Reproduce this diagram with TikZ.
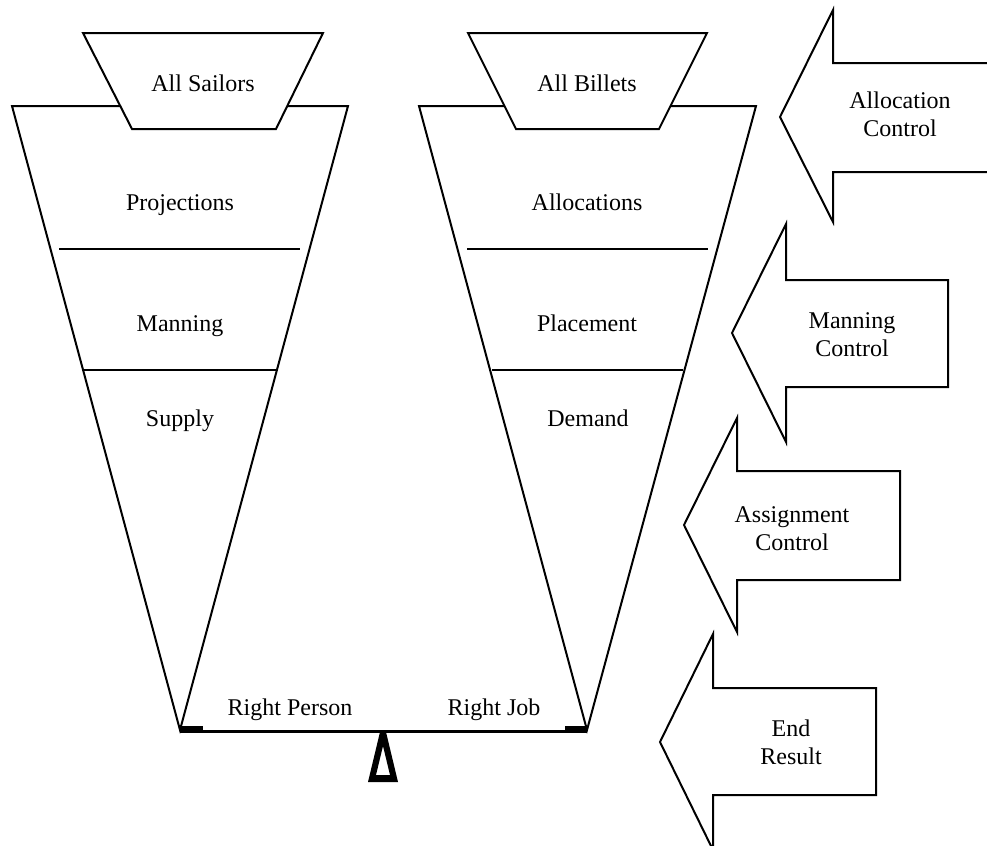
\documentclass[tikz,border=0pt]{standalone}
\usepackage{fontspec}
\setmainfont{Liberation Serif}
\begin{document}
\begin{tikzpicture}[x=0.5pt,y=-0.5pt, line join=miter,
  outl/.style={draw=black, line width=1pt, fill=white},
  sepline/.style={draw=black, line width=1pt},
  lbl/.style={font=\fontsize{12}{13.8}\selectfont, inner sep=0pt, anchor=base},
  lbltwo/.style={font=\fontsize{12}{13.8}\selectfont, inner sep=0pt, align=center, anchor=center},
  arrowshape/.style={draw=black, line width=1pt, fill=white}]
\useasboundingbox (0,0) rectangle (987,846);
% ---------- left funnel ----------
\coordinate (LTL) at (12,106);
\coordinate (LTR) at (348,106);
\coordinate (LB) at (180,730);
\draw[outl] (LTL) -- (LTR) -- (LB) -- cycle;
\draw[outl] (83,33) -- (323,33) -- (276,129) -- (132,129) -- cycle;
\draw[sepline] (59,249) -- (300,249);
\draw[sepline] (83,370) -- (276,370);
% ---------- right funnel ----------
\coordinate (RTL) at (419,106);
\coordinate (RTR) at (756,106);
\coordinate (RB) at (587,730);
\draw[outl] (RTL) -- (RTR) -- (RB) -- cycle;
\draw[outl] (468,33) -- (707,33) -- (659,129) -- (516,129) -- cycle;
\draw[sepline] (467,249) -- (708,249);
\draw[sepline] (492,370) -- (683,370);
% ---------- balance ----------
\draw[line width=1.5pt] (LB |- 0,731) -- (RB |- 0,731);
\fill (180,726) rectangle (203,733);
\fill (565,726) rectangle (587,733);
\fill[even odd rule] (380,732) -- (386,732) -- (398,782) -- (368,782) -- cycle
                     (383,746) -- (390,775) -- (376,775) -- cycle;
% ---------- arrows ----------
\draw[arrowshape] (990,63) -- (833,63) -- (833,10) -- (780,117) -- (833,222) -- (833,172) -- (990,172);
\draw[arrowshape] (948,280) -- (786,280) -- (786,224) -- (732,333) -- (786,442) -- (786,387) -- (948,387) -- cycle;
\draw[arrowshape] (900,471) -- (737,471) -- (737,418) -- (684,525) -- (737,632) -- (737,580) -- (900,580) -- cycle;
\draw[arrowshape] (876,688) -- (713,688) -- (713,634) -- (660,742) -- (713,850) -- (713,795) -- (876,795) -- cycle;
% ---------- labels ----------
\node[lbl] (sailors) at (203,91) {All Sailors};
\node[lbl] (billets) at (587,91) {All Billets};
\node[lbl] (proj) at (180,210) {Projections};
\node[lbl] (mann) at (180,331) {Manning};
\node[lbl] (supp) at (180,426) {Supply};
\node[lbl] (alloc) at (587,210) {Allocations};
\node[lbl] (place) at (587,331) {Placement};
\node[lbl] (dem) at (588,426) {Demand};
\node[lbl] (rperson) at (290,715) {Right Person};
\node[lbl] (rjob) at (494,715) {Right Job};
\node[lbltwo] (ac) at (900,114) {Allocation\\Control};
\node[lbltwo] (mc) at (852,334.5) {Manning\\Control};
\node[lbltwo] (asc) at (792,528.5) {Assignment\\Control};
\node[lbltwo] (er) at (791,742.5) {End\\Result};
\end{tikzpicture}
\end{document}
